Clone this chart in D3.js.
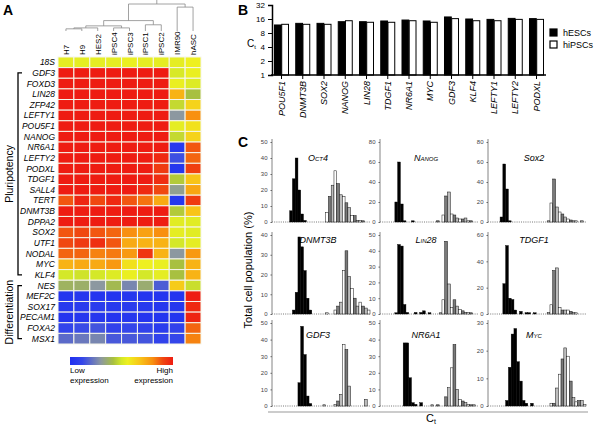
<!DOCTYPE html>
<html><head><meta charset="utf-8">
<script src="https://cdn.jsdelivr.net/npm/d3@7"></script>
<style>body{margin:0;background:#fff;} svg{display:block;font-family:"Liberation Sans",Arial,sans-serif;}</style>
</head><body><svg id="c" width="600" height="428"></svg>
<script>
// ---------- Panel A data ----------
const hmSamples = ["H7","H9","HES2","iPSC4","iPSC3","iPSC1","iPSC2","IMR90","hASC"];
const hmGenes = ["18S","GDF3","FOXD3","LIN28","ZFP42","LEFTY1","POU5F1","NANOG","NR6A1","LEFTY2","PODXL","TDGF1","SALL4","TERT","DNMT3B","DPPA2","SOX2","UTF1","NODAL","MYC","KLF4","NES","MEF2C","SOX17","PECAM1","FOXA2","MSX1"];
const hmValues = [
 [0.54,0.54,0.54,0.54,0.55,0.54,0.54,0.54,0.56],
 [1,1,1,1,1,1,1,0.51,0.55],
 [1,1,1,1,1,1,1,0.55,0.52],
 [1,1,1,1,1,1,1,0.72,0.42],
 [1,1,1,1,1,1,1,0.47,0.64],
 [1,1,1,1,1,1,1,0.3,0.8],
 [1,1,1,1,1,1,1,0.54,0.6],
 [1,1,1,1,1,1,1,0.47,0.64],
 [1,1,1,1,1,1,1,0.05,0.88],
 [1,1,1,1,1,1,0.97,0.14,0.86],
 [1,1,1,1,1,1,0.93,0.04,0.92],
 [1,1,1,1,1,1,0.96,0.44,0.68],
 [1,1,1,1,1,0.97,0.9,0.32,0.75],
 [0.88,0.98,0.9,0.97,0.88,0.84,0.74,0.04,0.93],
 [1,1,1,1,1,1,1,0.44,0.68],
 [1,1,1,1,1,1,1,0.53,0.53],
 [0.88,0.9,0.88,0.86,0.8,0.76,0.8,0.54,0.53],
 [0.9,0.93,0.96,0.88,0.74,0.72,0.72,0.5,0.54],
 [0.86,0.86,0.82,0.83,0.78,0.94,0.72,0.3,0.78],
 [0.72,0.74,0.74,0.78,0.6,0.56,0.55,0.42,0.72],
 [0.5,0.49,0.5,0.52,0.55,0.5,0.54,0.42,0.72],
 [0.38,0.37,0.3,0.4,0.26,0.36,0.17,0.66,0.48],
 [0.03,0.04,0.03,0.03,0.04,0.03,0.03,0.03,1],
 [0.05,0.06,0.07,0.05,0.06,0.05,0.04,0.04,0.97],
 [0.03,0.04,0.04,0.03,0.04,0.03,0.03,0.03,0.98],
 [0.11,0.13,0.15,0.1,0.12,0.1,0.07,0.1,0.86],
 [0.2,0.23,0.26,0.16,0.16,0.15,0.1,0.12,0.82]
];
const groupNames = ["Pluripotency","Differentiation"];
const groupFirst = ["GDF3","NES"];
const groupLast = ["KLF4","MSX1"];
// dendrogram (merge heights, 0..1)
const dendro = {h:1, children:[
  {h:0.385, children:[
    {h:0.19, children:[
      {h:0.115, children:[{h:0.08, children:[{name:"H7"},{name:"H9"}]},{name:"HES2"}]},
      {h:0.115, children:[{name:"iPSC4"},{name:"iPSC3"}]}
    ]},
    {h:0.23, children:[{name:"iPSC1"},{name:"iPSC2"}]}
  ]},
  {h:0.885, children:[{name:"IMR90"},{name:"hASC"}]}
]};

// ---------- Panel B data ----------
const ctGenes = ["POU5F1","DNMT3B","SOX2","NANOG","LIN28","TDGF1","NR6A1","MYC","GDF3","KLF4","LEFTY1","LEFTY2","PODXL"];
const ctSeries = ["hESCs","hiPSCs"];
const ctESC  = [11.9,12.9,12.9,14.0,14.0,14.5,15.2,14.5,17.7,16.0,15.7,16.5,16.3];
const ctIPSC = [12.3,12.3,12.3,14.7,13.6,13.6,14.7,13.6,16.3,14.7,14.7,15.7,15.7];
const ctTicks = [1,2,4,8,16,32];

// ---------- Panel C data ----------
const histTitles = ["Oct4","Nanog","Sox2","DNMT3B","Lin28","TDGF1","GDF3","NR6A1","Myc"];
const histSmallCaps = [true,true,false,false,true,false,false,false,true];
const histMax = [50,80,80,40,50,60,50,50,30];
const histStep = [10,20,20,10,10,20,10,10,10];
const histEscStart = [6,5,4,7,5,5,9,8,6];
const histEsc = [
 [7,27,40,20,5,1],
 [20,60,18,1,0,0,0.5],
 [5,58,33,1],
 [2,11,39,34,22,8,2],
 [0.5,44,43,6,1,0,0,1,0,1,2,0,0.5],
 [23,52,12,11,3,0,2,0,1,1,0,0.5],
 [14,48,31,6,1.5],
 [38,38,17,2,1,0,2],
 [2,14,26,28,16,9,2,1,0,1]
];
const histIpsStart = [19,20,21,19,21,21,18,18,22];
const histIps = [
 [6,16,23,32,24,17,16,12,9,4,4,1,1,0.5],
 [0.5,0,7,26,30,8,7,4,3,3,4,1,0.5],
 [1,19,43,15,10,8,5,3,2,1,0.5,0,0.5],
 [0.5,0,0,2,4,6,22,32,19,13,8,4,6,4,3,2],
 [0.5,9,46,19,4,9,5,3,2,1,1,0.5],
 [1,7,33,35,5,3,3,3,2,1,0.5],
 [0.5,0,0,0,1,3,7,37,34,12,0,0,0,0,0,4],
 [0.5,0,0.5,0,0,5.5,11,23,37,10,4,3,2,1,0.5,0.5],
 [1,1,6.5,11.5,17,21,18,9,3,1.5,2,2,0.5]
];
const nBins = 35;

// ================= drawing =================
const svg = d3.select("#c");

// panel letters
[["A",3,15],["B",238,15],["C",238,147]].forEach(([t,x,y]) =>
  svg.append("text").attr("x",x).attr("y",y).attr("font-size",14).attr("font-weight","bold").text(t));

// ---------- Panel A ----------
const hmX = d3.scaleBand().domain(hmSamples).range([58,201]);
const hmY = d3.scaleBand().domain(hmGenes).range([57,344]);
const stops = [0,0.12,0.3,0.42,0.5,0.56,0.68,0.8,0.9,1];
const stopColors = ["#1f2ff0","#3446ea","#8c98a0","#a8c040","#d4e828","#eef020","#f8c418","#f89010","#f04810","#ee1c12"];
const hmColor = d3.scaleLinear().domain(stops).range(stopColors).clamp(true);

const cells = [];
hmValues.forEach((row,i)=>row.forEach((v,j)=>cells.push({g:hmGenes[i],s:hmSamples[j],v})));
svg.append("g").selectAll("rect").data(cells).join("rect")
  .attr("x",d=>hmX(d.s)).attr("y",d=>hmY(d.g))
  .attr("width",hmX.bandwidth()).attr("height",hmY.bandwidth())
  .attr("fill",d=>hmColor(d.v)).attr("stroke","#f6f6ea").attr("stroke-width",1);

svg.append("g").selectAll("text").data(hmGenes).join("text")
  .attr("x",55).attr("y",d=>hmY(d)+hmY.bandwidth()/2).attr("dy","0.35em")
  .attr("text-anchor","end").attr("font-size",8.5).attr("font-style","italic").text(d=>d);

svg.append("g").selectAll("text").data(hmSamples).join("text")
  .attr("transform",d=>`translate(${hmX(d)+hmX.bandwidth()/2+3},55) rotate(-90)`)
  .attr("font-size",8).text(d=>d);

// dendrogram
const dY = d3.scaleLinear().domain([0,1]).range([31,4]);
const dg = svg.append("g").attr("stroke","#8a8a8a").attr("stroke-width",0.8).attr("fill","none");
function layout(n){
  if(!n.children){ n.x = hmX(n.name)+hmX.bandwidth()/2; n.y = dY(0); return n; }
  n.children.forEach(layout);
  n.x = d3.mean(n.children,c=>c.x); n.y = dY(n.h);
  const xs = n.children.map(c=>c.x);
  dg.append("line").attr("x1",d3.min(xs)).attr("x2",d3.max(xs)).attr("y1",n.y).attr("y2",n.y);
  n.children.forEach(c=>dg.append("line").attr("x1",c.x).attr("x2",c.x).attr("y1",n.y).attr("y2",c.y));
  return n;
}
const root = layout(dendro);
dg.append("line").attr("x1",root.x).attr("x2",root.x).attr("y1",root.y).attr("y2",0);

// group brackets
groupNames.forEach((name,i)=>{
  const y1 = hmY(groupFirst[i])+hmY.bandwidth()/2, y2 = hmY(groupLast[i])+hmY.bandwidth()/2;
  svg.append("path").attr("d",`M22,${y1}H18V${y2}H22`).attr("fill","none").attr("stroke","#000").attr("stroke-width",1.3);
  svg.append("text").attr("transform",`translate(13,${(y1+y2)/2}) rotate(-90)`)
    .attr("text-anchor","middle").attr("font-size",10.5).text(name);
});

// colorbar
const grad = svg.append("defs").append("linearGradient").attr("id","cb");
stops.forEach((s,i)=>grad.append("stop").attr("offset",s).attr("stop-color",stopColors[i]));
svg.append("rect").attr("x",70).attr("y",357).attr("width",103).attr("height",8).attr("fill","url(#cb)");
[["Low",70,"start"],["High",173,"end"]].forEach(([t,x,a])=>{
  svg.append("text").attr("x",x).attr("y",373).attr("text-anchor",a).attr("font-size",8).text(t);
  svg.append("text").attr("x",x).attr("y",383).attr("text-anchor",a).attr("font-size",8).text("expression");
});

// ---------- Panel B ----------
const bX0 = d3.scaleBand().domain(ctGenes).range([273,545]).paddingInner(0.3).paddingOuter(0.05);
const bX1 = d3.scaleBand().domain(ctSeries).range([0,bX0.bandwidth()]).padding(0.06);
const bY = d3.scaleLog().base(2).domain([1,32]).range([75,5]);
const bData = [];
ctGenes.forEach((g,i)=>{ bData.push({g,s:"hESCs",v:ctESC[i]}); bData.push({g,s:"hiPSCs",v:ctIPSC[i]}); });
svg.append("g").selectAll("rect").data(bData).join("rect")
  .attr("x",d=>bX0(d.g)+bX1(d.s)).attr("y",d=>bY(d.v))
  .attr("width",bX1.bandwidth()).attr("height",d=>75-bY(d.v))
  .attr("fill",d=>d.s==="hESCs"?"#000":"#fff").attr("stroke","#000").attr("stroke-width",1);
const bAxis = svg.append("g").attr("transform","translate(272,0)")
  .call(d3.axisLeft(bY).tickValues(ctTicks).tickFormat(d3.format("d")).tickSize(4));
bAxis.select(".domain").attr("stroke-width",1.5);
bAxis.selectAll("text").attr("font-size",8).attr("font-family","Liberation Sans, Arial, sans-serif");
svg.append("line").attr("x1",271).attr("x2",546).attr("y1",75).attr("y2",75).attr("stroke","#000").attr("stroke-width",1.5);
svg.append("g").selectAll("line").data(ctGenes).join("line")
  .attr("x1",d=>bX0(d)+bX0.bandwidth()/2).attr("x2",d=>bX0(d)+bX0.bandwidth()/2)
  .attr("y1",75).attr("y2",79).attr("stroke","#000").attr("stroke-width",1);
svg.append("g").selectAll("text").data(ctGenes).join("text")
  .attr("transform",d=>`translate(${bX0(d)+bX0.bandwidth()/2+3},81) rotate(-90)`)
  .attr("text-anchor","end").attr("font-size",9).attr("font-style","italic").text(d=>d);
const ctLab = svg.append("text").attr("x",247).attr("y",47).attr("font-size",10);
ctLab.append("tspan").text("C");
ctLab.append("tspan").attr("font-size",6).attr("dy",2).text("t");
// legend
ctSeries.forEach((s,i)=>{
  svg.append("rect").attr("x",550).attr("y",29+i*12).attr("width",7).attr("height",7)
    .attr("fill",i===0?"#000":"#fff").attr("stroke","#000").attr("stroke-width",1.2);
  svg.append("text").attr("x",563).attr("y",36+i*12).attr("font-size",9).text(s);
});

// ---------- Panel C ----------
const colX = [272,380,488];
const rowTop = [142,235,323];
const rowBot = [222,314,406];
const titleY = [161,243,338];
const panelW = 98;
const ipsShades = ["#bdbdbd","#ffffff","#7a7a7a"];

histTitles.forEach((title,k)=>{
  const c = k%3, r = Math.floor(k/3);
  const ax = colX[c];
  const g = svg.append("g");
  const x = d3.scaleBand().domain(d3.range(nBins)).range([ax+1, ax+panelW]).padding(0);
  const y = d3.scaleLinear().domain([0,histMax[k]]).range([rowBot[r],rowTop[r]]);
  // baseline dotted
  g.append("line").attr("x1",ax).attr("x2",ax+panelW).attr("y1",rowBot[r]).attr("y2",rowBot[r])
    .attr("stroke","#555").attr("stroke-width",0.8).attr("stroke-dasharray","1,1.2");
  // y axis
  const axis = g.append("g").attr("transform",`translate(${ax},0)`)
    .call(d3.axisLeft(y).tickValues(d3.range(0,histMax[k]+0.1,histStep[k])).tickSize(1.5).tickPadding(3));
  axis.select(".domain").attr("stroke","#666").attr("stroke-width",0.8).attr("d",`M0,${rowBot[r]}V${rowTop[r]-3}`);
  axis.selectAll(".tick line").attr("stroke","#666");
  axis.selectAll("text").attr("font-size",6).attr("fill","#444").attr("font-family","Liberation Sans, Arial, sans-serif");
  // bars
  const esc = histEsc[k].map((v,i)=>({b:histEscStart[k]+i,v})).filter(d=>d.v>0);
  const ips = histIps[k].map((v,i)=>({b:histIpsStart[k]+i,v})).filter(d=>d.v>0);
  g.selectAll(".e").data(esc).join("rect")
    .attr("x",d=>x(d.b)).attr("width",x.bandwidth()).attr("y",d=>Math.min(y(d.v),rowBot[r]-1.2))
    .attr("height",d=>Math.max(rowBot[r]-y(d.v),1.2)).attr("fill","#000").attr("stroke","#000").attr("stroke-width",0.4);
  g.selectAll(".i").data(ips).join("rect")
    .attr("x",d=>x(d.b)).attr("width",x.bandwidth()).attr("y",d=>Math.min(y(d.v),rowBot[r]-1.2))
    .attr("height",d=>Math.max(rowBot[r]-y(d.v),1.2)).attr("fill",d=>ipsShades[d.b%3]).attr("stroke","#111").attr("stroke-width",0.5);
  // title
  g.append("text").attr("x",ax+46).attr("y",titleY[r]).attr("text-anchor","middle")
    .attr("font-size",9).attr("font-style","italic")
    .attr("font-variant",histSmallCaps[k]?"small-caps":"normal").text(title);
});
svg.append("line").attr("x1",268).attr("x2",588).attr("y1",412).attr("y2",412).attr("stroke","#bbb").attr("stroke-width",1.5);
svg.append("text").attr("transform","translate(252,270) rotate(-90)").attr("text-anchor","middle")
  .attr("font-size",11).text("Total cell population (%)");
const ct2 = svg.append("text").attr("x",426).attr("y",422).attr("font-size",11);
ct2.append("tspan").text("C");
ct2.append("tspan").attr("font-size",7).attr("dy",2).text("t");
</script></body></html>
